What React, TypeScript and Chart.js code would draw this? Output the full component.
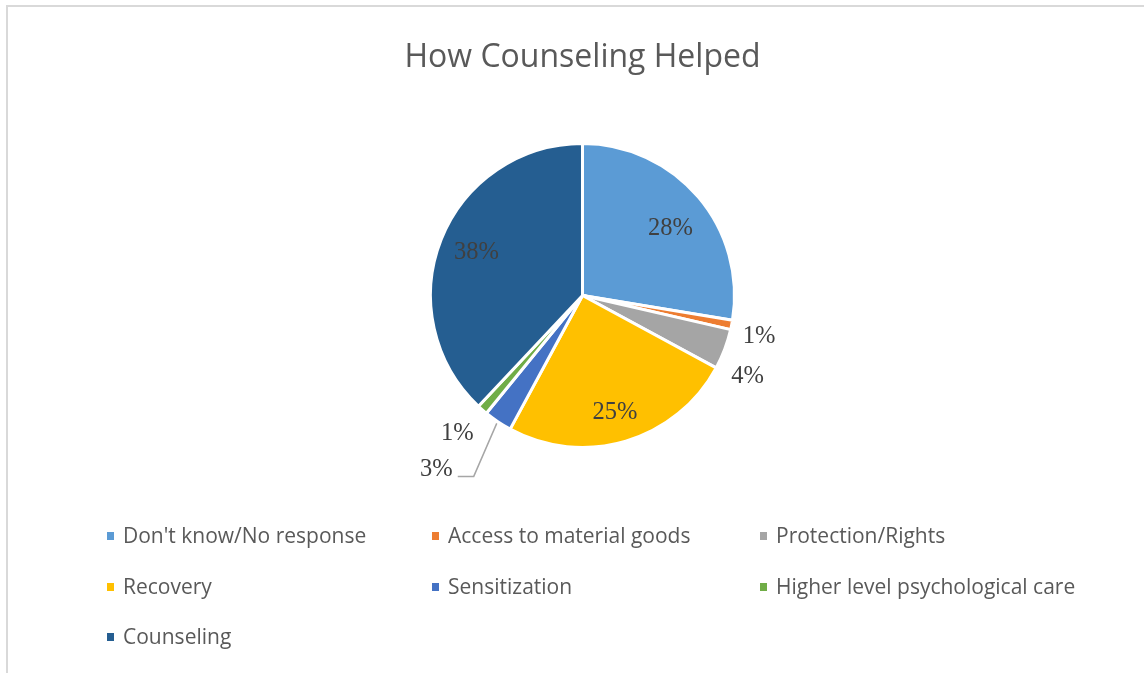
import React, { useEffect, useRef } from "react";
import { Chart, registerables } from "chart.js";

Chart.register(...registerables);

const chartTitle = "How Counseling Helped";
const categories = [
  "Don't know/No response",
  "Access to material goods",
  "Protection/Rights",
  "Recovery",
  "Sensitization",
  "Higher level psychological care",
  "Counseling",
];
const shares = [27.6, 1.0, 4.3, 25.0, 3.0, 1.1, 38.0];
const sliceColors = ["#5B9BD5", "#ED7D31", "#A5A5A5", "#FFC000", "#4472C4", "#70AD47", "#255E91"];
const labelPlacement = ["inside", "outside", "outside", "inside", "leader", "outside", "inside"];
// small per-label nudges (px) applied after geometric placement
const labelNudge: [number, number][] = [
  [1, 5],
  [-4, 4],
  [-7, 14],
  [0, 6],
  [0, 0],
  [-4, -2],
  [0, -3],
];

const SANS = "'Open Sans', 'Liberation Sans', sans-serif";
const SERIF = "'Liberation Serif', 'Times New Roman', serif";

const overlayPlugin = {
  id: "overlay",
  afterDraw(chart: any) {
    const ctx = chart.ctx as CanvasRenderingContext2D;
    const meta = chart.getDatasetMeta(0);
    const data = chart.data.datasets[0].data as number[];
    const bg = chart.data.datasets[0].backgroundColor as string[];
    ctx.save();

    // title
    ctx.fillStyle = "#595959";
    ctx.font = `32px ${SANS}`;
    ctx.textAlign = "center";
    ctx.textBaseline = "alphabetic";
    const cx = (chart.chartArea.left + chart.chartArea.right) / 2;
    ctx.fillText(chartTitle, cx, 67);

    // data labels (y = glyph centre, digit height ~16px)
    ctx.font = `24.5px ${SERIF}`;
    ctx.fillStyle = "#404040";
    ctx.textBaseline = "alphabetic";
    const half = 8;
    meta.data.forEach((arc: any, i: number) => {
      const p = arc.getProps(["x", "y", "startAngle", "endAngle", "outerRadius"], true);
      const mid = (p.startAngle + p.endAngle) / 2;
      const R = p.outerRadius;
      const txt = Math.round(data[i]) + "%";
      const mode = labelPlacement[i];
      const [nx, ny] = labelNudge[i];
      if (mode === "inside" || mode === "outside") {
        const r = mode === "inside" ? R * 0.75 : R + 32;
        ctx.textAlign = "center";
        ctx.fillText(txt, p.x + r * Math.cos(mid) + nx, p.y + r * Math.sin(mid) + ny + half);
      } else {
        const sx = p.x + (R + 2) * Math.cos(mid);
        const sy = p.y + (R + 2) * Math.sin(mid);
        const ex = sx - 23;
        const ey = sy + 53;
        const hx = ex - 16;
        ctx.strokeStyle = "#A6A6A6";
        ctx.lineWidth = 1.5;
        ctx.beginPath();
        ctx.moveTo(sx, sy);
        ctx.lineTo(ex, ey);
        ctx.lineTo(hx, ey);
        ctx.stroke();
        ctx.textAlign = "right";
        ctx.fillText(txt, hx - 5 + nx, ey - 8.5 + ny + half);
      }
    });

    // legend
    const colX = [107, 432, 760];
    const rowY = [536, 587, 637];
    ctx.font = `21px ${SANS}`;
    ctx.textAlign = "left";
    ctx.textBaseline = "alphabetic";
    (chart.data.labels as string[]).forEach((lab, i) => {
      const x = colX[i % 3];
      const y = rowY[Math.floor(i / 3)];
      ctx.fillStyle = bg[i];
      ctx.fillRect(x, y - 4, 7, 8);
      ctx.fillStyle = "#595959";
      ctx.fillText(lab, x + 16, y + 7);
    });
    ctx.restore();
  },
};

export default function App() {
  const ref = useRef<HTMLCanvasElement | null>(null);
  useEffect(() => {
    document.body.style.margin = "0";
    const chart = new Chart(ref.current as HTMLCanvasElement, {
      type: "pie",
      data: {
        labels: categories,
        datasets: [
          {
            data: shares,
            backgroundColor: sliceColors,
            borderColor: "#ffffff",
            borderWidth: 3,
          },
        ],
      },
      options: {
        responsive: false,
        animation: false,
        layout: { padding: { left: 429, right: 408, top: 142, bottom: 224 } },
        plugins: {
          legend: { display: false },
          tooltip: { enabled: false },
          title: { display: false },
        },
      },
      plugins: [overlayPlugin],
    } as any);
    return () => chart.destroy();
  }, []);
  return (
    <div style={{ position: "relative", width: 1144, height: 673, background: "#fff" }}>
      <div
        style={{
          position: "absolute",
          left: 6,
          top: 5,
          right: 0,
          bottom: 0,
          borderTop: "2px solid #d9d9d9",
          borderLeft: "2px solid #d9d9d9",
        }}
      />
      <canvas ref={ref} width={1144} height={673} style={{ position: "absolute", left: 0, top: 0 }} />
    </div>
  );
}
